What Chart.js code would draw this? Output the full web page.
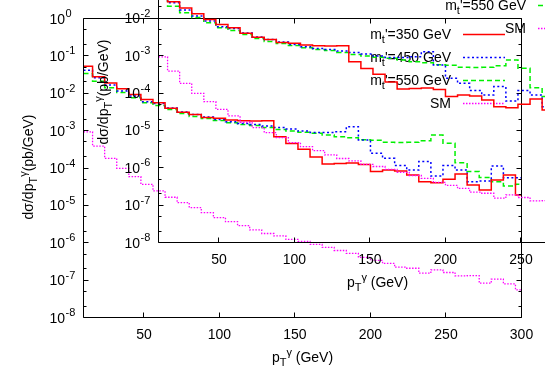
<!DOCTYPE html>
<html><head><meta charset="utf-8">
<script src="https://cdn.jsdelivr.net/npm/chart.js@4/dist/chart.umd.min.js"></script>
<style>
html,body{margin:0;padding:0;background:#fff;overflow:hidden}
#wrap{position:relative;width:545px;height:382px;overflow:hidden;background:#fff}
#wrap canvas{position:absolute}
#outer{left:0;top:0}
#inset{left:75px;top:-75px}
</style></head><body>
<div id="wrap">
<canvas id="outer" width="545" height="382" style="width:545px;height:382px"></canvas>
<canvas id="inset" width="545" height="382" style="width:545px;height:382px"></canvas>
</div>
<script>
// ---- data ----
const binEdges = [10,16,24,32,40,48,56,64,72,80,88,96,104,112,120,128,136,144,152,160,168,176,184,192,200,208,216,224,232,240,248,256,264,272,280,288,296,300];
const mt350 = [5.3e-2,2.75e-2,1.87e-2,1.31e-2,9.3e-3,6.8e-3,5.55e-3,3.94e-3,3.08e-3,2.69e-3,2.26e-3,2.13e-3,1.92e-3,1.85e-3,1.82e-3,1.84e-3,6.9e-4,4.5e-4,3.16e-4,1.97e-4,1.28e-4,1.32e-4,1.36e-4,1.24e-4,8.05e-5,8.8e-5,8.3e-5,6.5e-5,4.3e-5,4.04e-5,5.0e-5,6.9e-5,3.5e-5,2.58e-5,4.8e-5,6.5e-5,1.9e-5];
const mt450 = [4.15e-2,2.59e-2,1.65e-2,1.14e-2,8.4e-3,5.9e-3,5.28e-3,4.01e-3,3.13e-3,2.69e-3,2.3e-3,1.98e-3,1.72e-3,1.56e-3,1.45e-3,1.32e-3,1.21e-3,1.1e-3,9.7e-4,8.9e-4,8.85e-4,9.3e-4,1.27e-3,5.6e-4,2.47e-4,1.81e-4,1.16e-4,8.8e-5,1.49e-4,6.1e-5,1.16e-4,8.8e-5,4.3e-5,4.5e-5,1.13e-4,5.5e-5,5.5e-5];
const mt550 = [3.39e-2,2.11e-2,1.4e-2,1.05e-2,7.55e-3,5.55e-3,4.67e-3,3.65e-3,2.86e-3,2.38e-3,2.1e-3,1.86e-3,1.62e-3,1.45e-3,1.38e-3,1.22e-3,1.08e-3,9.7e-4,9.0e-4,8.45e-4,7.6e-4,6.85e-4,6.45e-4,5.7e-4,5.55e-4,4.9e-4,4.8e-4,4.85e-4,5.36e-4,7.6e-4,4.57e-4,1.38e-4,8.0e-5,5.6e-5,4.3e-5,3.3e-5,3.66e-5];
const smBkg = [9.3e-4,3.87e-4,1.81e-4,9.8e-5,5.85e-5,3.66e-5,2.43e-5,1.65e-5,1.18e-5,8.7e-6,6.4e-6,4.7e-6,3.67e-6,2.87e-6,2.2e-6,1.77e-6,1.52e-6,1.23e-6,1.08e-6,9.0e-7,7.5e-7,6.2e-7,5.2e-7,4.05e-7,3.37e-7,2.8e-7,2.22e-7,2.08e-7,1.53e-7,1.88e-7,1.6e-7,1.3e-7,1.32e-7,8.3e-8,1.06e-7,7.9e-8,5.5e-8];
const xTickValues = [50,100,150,200,250,300];
const yTickValues = [1e-8,1e-7,1e-6,1e-5,1e-4,1e-3,1e-2,1e-1,1];
const yMinorMantissas = [2,5];
const legendNames = [["m","t","'=350 GeV"],["m","t","'=450 GeV"],["m","t","'=550 GeV"],["SM"]];

const FONT = '"Liberation Sans", Arial, Helvetica, sans-serif';

function histPoints(vals){
  const pts = vals.map((v,i)=>({x:binEdges[i], y:v}));
  pts.push({x:binEdges[binEdges.length-1], y:vals[vals.length-1]});
  return pts;
}

const styles = [
  {data:mt350, color:'#ff0000', dash:[], width:1.5},
  {data:mt450, color:'#0000ff', dash:[2,2.5], width:1.5},
  {data:mt550, color:'#00f000', dash:[5,3], width:1.5},
  {data:smBkg, color:'#ff00ff', dash:[1.5,1.5], width:1.3}
];

// parts: [text, kind] kind 0 normal, 1 subscript, 2 superscript
function drawRich(ctx, parts, x, y, align){
  const fs = [ '14px '+FONT, '11px '+FONT, '11px '+FONT ];
  const dy = [0, 4, -6];
  let total = 0;
  const ws = parts.map(p=>{ ctx.font = fs[p[1]]; const w = ctx.measureText(p[0]).width; total += w; return w; });
  let cx = align==='right' ? x-total : align==='center' ? x-total/2 : x;
  ctx.textBaseline = 'alphabetic'; ctx.textAlign = 'left';
  parts.forEach((p,i)=>{ ctx.font = fs[p[1]]; ctx.fillText(p[0], cx, y+dy[p[1]]); cx += ws[i]; });
}

const framePlugin = {
  id:'gnuframe',
  afterDraw(chart){
    const ctx = chart.ctx, a = chart.chartArea;
    const xs = chart.scales.x, ys = chart.scales.y;
    const snap = v => Math.round(v-0.5)+0.5;
    const L = snap(a.left), R = snap(a.right), T = snap(a.top), B = snap(a.bottom);
    ctx.save();
    ctx.strokeStyle = '#000'; ctx.lineWidth = 1; ctx.setLineDash([]);
    ctx.beginPath();
    ctx.rect(L, T, R-L, B-T);
    xTickValues.forEach(v=>{ const px = snap(xs.getPixelForValue(v));
      ctx.moveTo(px, B); ctx.lineTo(px, B-5); ctx.moveTo(px, T); ctx.lineTo(px, T+5); });
    yTickValues.forEach(v=>{ const py = snap(ys.getPixelForValue(v));
      ctx.moveTo(L, py); ctx.lineTo(L+5, py); ctx.moveTo(R, py); ctx.lineTo(R-5, py);
      if (v < 1) yMinorMantissas.forEach(m=>{ const q = snap(ys.getPixelForValue(v*m));
        ctx.moveTo(L, q); ctx.lineTo(L+3, q); ctx.moveTo(R, q); ctx.lineTo(R-3, q); });
    });
    ctx.stroke();
    ctx.fillStyle = '#000';
    // y tick labels: 10 with superscript exponent, placed by the y scale
    yTickValues.forEach(v=>{
      const py = ys.getPixelForValue(v);
      const e = String(Math.round(Math.log10(v)));
      ctx.font = '14px '+FONT; ctx.textAlign = 'right'; ctx.textBaseline = 'alphabetic';
      ctx.fillText('10', a.left-18.5, py+5);
      ctx.font = '11px '+FONT; ctx.textAlign = 'left';
      ctx.fillText(e, a.left-18, py-1.5);
    });
    // axis titles
    drawRich(ctx, [['p',0],['T',1],['γ',2],[' (GeV)',0]], (a.left+a.right)/2, 362, 'center');
    ctx.save();
    ctx.translate(28, (a.top+a.bottom)/2 - 1);
    ctx.rotate(-Math.PI/2);
    drawRich(ctx, [['dσ/dp',0],['T',1],['γ',2],['(pb/GeV)',0]], 0, 5, 'center');
    ctx.restore();
    // key
    legendNames.forEach((nm,i)=>{
      const y = a.top + 15 + i*23.1;
      const parts = nm.length===3 ? [[nm[0],0],[nm[1],1],[nm[2],0]] : [[nm[0],0]];
      ctx.fillStyle = '#000';
      drawRich(ctx, parts, a.right-70.5, y+5, 'right');
      const st = styles[i];
      ctx.strokeStyle = st.color; ctx.lineWidth = st.width; ctx.setLineDash(st.dash);
      ctx.beginPath(); ctx.moveTo(a.right-58.5, Math.round(y)+0.5); ctx.lineTo(a.right-16.5, Math.round(y)+0.5); ctx.stroke();
    });
    ctx.restore();
  }
};

function makeChart(id){
  return new Chart(document.getElementById(id), {
    type:'line',
    data:{ datasets: styles.map((s,i)=>({
      label: legendNames[i].join(''),
      data: histPoints(s.data),
      borderColor: s.color, borderWidth: s.width, borderDash: s.dash,
      stepped: 'before', pointRadius: 0, fill: false, tension: 0
    })) },
    options:{
      responsive:false, animation:false, devicePixelRatio:1,
      layout:{ padding:{ top:18.5, right:23.5, left:0, bottom:0 } },
      plugins:{ legend:{display:false}, tooltip:{enabled:false} },
      scales:{
        x:{ type:'linear', min:10, max:300,
            afterBuildTicks: s=>{ s.ticks = xTickValues.map(v=>({value:v})); },
            afterFit: s=>{ s.height = 64.5; },
            grid:{ display:false, drawTicks:false }, border:{display:false},
            ticks:{ autoSkip:false, maxRotation:0, padding:9, color:'#000', font:{family:FONT, size:14}, callback:v=>String(v) } },
        y:{ type:'logarithmic', min:1e-8, max:1,
            afterBuildTicks: s=>{ s.ticks = yTickValues.map(v=>({value:v})); },
            afterFit: s=>{ s.width = 83.5; },
            grid:{ display:false, drawTicks:false }, border:{display:false},
            ticks:{ display:false } }
      }
    },
    plugins:[framePlugin]
  });
}
makeChart('outer');
makeChart('inset');
</script>
</body></html>
